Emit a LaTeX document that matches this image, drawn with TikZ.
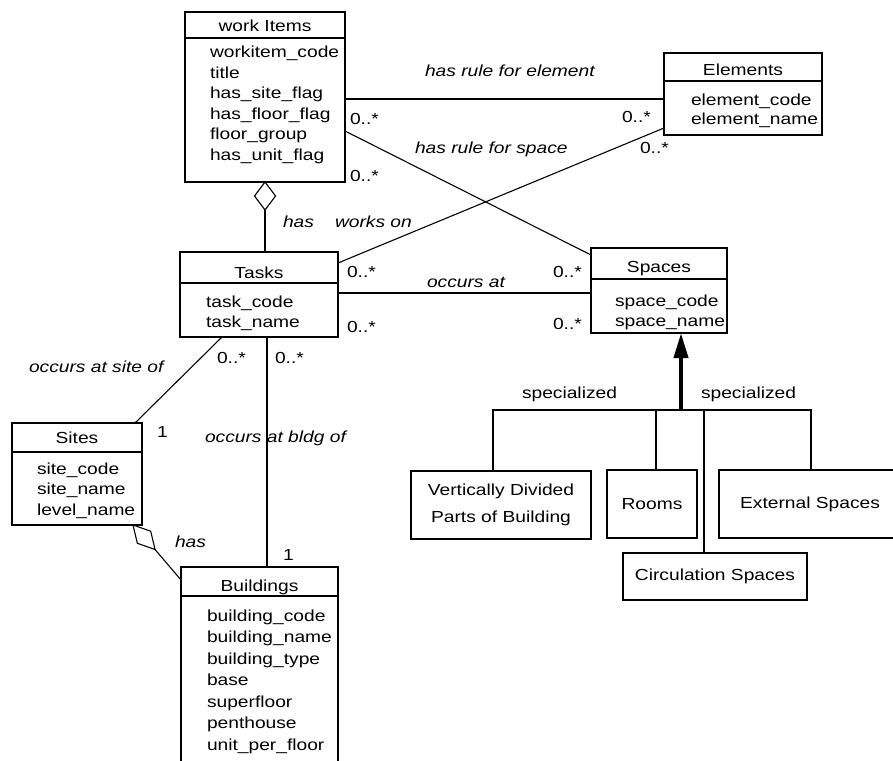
\documentclass[tikz,border=0pt]{standalone}
\usepackage{fontspec}
\setmainfont{Liberation Sans}[FakeStretch=1.2]
\usetikzlibrary{shapes.geometric,arrows.meta}

\begin{document}
\begin{tikzpicture}[x=1pt,y=-1pt,
  every node/.style={inner sep=0pt,outer sep=0pt},
  ln/.style={line width=1.1pt},
  cls/.style={draw,rectangle,line width=1.1pt},
  sub/.style={draw,rectangle,line width=1.1pt,align=center,
    font=\fontsize{16}{27}\selectfont},
  ttl/.style={anchor=base,font=\fontsize{16}{20}\selectfont},
  attr/.style={anchor=base west,font=\fontsize{16}{20}\selectfont},
  lbl/.style={anchor=base west,font=\fontsize{16}{20}\selectfont\itshape},
  mult/.style={anchor=base west,font=\fontsize{16}{20}\selectfont},
  agg/.style={draw,diamond,line width=1.1pt,fill=white},
]
\useasboundingbox (0,0) rectangle (893,760);
\clip (0,0) rectangle (893,760);

% ---------- classes ----------
% work Items
\node[cls,minimum width=160pt,minimum height=170pt] (wi) at (265,97) {};
\draw[ln] (wi.west |- 0,38) -- (wi.east |- 0,38);
\node[ttl] (wi-t) at (265,32) {work Items};
\foreach \t [count=\i from 0] in {workitem\_code,title,has\_site\_flag,
    has\_floor\_flag,floor\_group,has\_unit\_flag}
  \node[attr] (wi-a\i) at (210,{58+20.4*\i}) {\t};

% Elements
\node[cls,minimum width=158pt,minimum height=82pt] (el) at (743,94) {};
\draw[ln] (el.west |- 0,81) -- (el.east |- 0,81);
\node[ttl] (el-t) at (743,75) {Elements};
\foreach \t [count=\i from 0] in {element\_code,element\_name}
  \node[attr] (el-a\i) at (691,{105+19.5*\i}) {\t};

% Tasks
\node[cls,minimum width=158pt,minimum height=85pt] (ta) at (259,294.5) {};
\draw[ln] (ta.west |- 0,283) -- (ta.east |- 0,283);
\node[ttl] (ta-t) at (259,278) {Tasks};
\foreach \t [count=\i from 0] in {task\_code,task\_name}
  \node[attr] (ta-a\i) at (206,{307+20*\i}) {\t};

% Spaces
\node[cls,minimum width=136pt,minimum height=85pt] (sp) at (659,290.5) {};
\draw[ln] (sp.west |- 0,279) -- (sp.east |- 0,279);
\node[ttl] (sp-t) at (659,272) {Spaces};
\foreach \t [count=\i from 0] in {space\_code,space\_name}
  \node[attr] (sp-a\i) at (615,{306+20*\i}) {\t};

% Sites
\node[cls,minimum width=130pt,minimum height=102pt] (si) at (77,474) {};
\draw[ln] (si.west |- 0,452) -- (si.east |- 0,452);
\node[ttl] (si-t) at (77,443) {Sites};
\foreach \t [count=\i from 0] in {site\_code,site\_name,level\_name}
  \node[attr] (si-a\i) at (37,{474+20.5*\i}) {\t};

% Buildings (runs past the lower edge)
\node[cls,minimum width=157pt,minimum height=233pt] (bu) at (259.5,683.5) {};
\draw[ln] (bu.west |- 0,596) -- (bu.east |- 0,596);
\node[ttl] (bu-t) at (259.5,591) {Buildings};
\foreach \t [count=\i from 0] in {building\_code,building\_name,building\_type,
    base,superfloor,penthouse,unit\_per\_floor}
  \node[attr] (bu-a\i) at (207,{621+21.5*\i}) {\t};

% ---------- specializations of Spaces ----------
\node[sub,minimum width=180pt,minimum height=68pt] (vd) at (501,505)
  {Vertically Divided\\Parts of Building};
\node[sub,minimum width=90pt,minimum height=68pt] (ro) at (652,504) {Rooms};
\node[sub,minimum width=182pt,minimum height=68pt] (ex) at (810,504) {External Spaces};
\node[sub,minimum width=184pt,minimum height=47pt] (ci) at (715,576.5) {Circulation Spaces};

\coordinate (bar) at (681,410);
\draw[ln] (vd.north -| 493,0) -- (493,410) -- (811,410) -- (ex.north -| 811,0);
\draw[ln] (ro.north -| 656,0) -- (656,410);
\draw[ln] (ci.north -| 704,0) -- (704,410);
\draw[line width=4pt,-{Triangle[width=14pt,length=25pt]}] (bar) -- (sp.south -| bar);
\node[attr] (spc1) at (522,398) {specialized};
\node[attr] (spc2) at (701,398) {specialized};

% ---------- associations ----------
\draw[ln] (wi.east |- 0,99) -- (el.west |- 0,99);
\draw[ln] (wi.east |- 0,131) -- (sp.west |- 0,255);
\draw[ln] (ta.east |- 0,263) -- (el.west |- 0,128);
\draw[ln] (ta.east |- 0,293) -- (sp.west |- 0,293);
\draw[ln] (ta.south -| 222,0) -- (si.north -| 135,0);
\draw[ln] (ta.south -| 267,0) -- (bu.north -| 267,0);

% aggregations
\node[agg,minimum width=21pt,minimum height=28pt,anchor=north] (dwi) at (wi.south) {};
\draw[ln] (dwi.south) -- (ta.north -| dwi.south);
\node[agg,minimum width=33pt,minimum height=18pt,rotate=-48,anchor=west] (dsi)
  at (si.south -| 133,0) {};
\draw[ln] (dsi.east) -- (bu.west |- 0,580);

% association names
\node[lbl] (n1) at (425,76) {has rule for element};
\node[lbl] (n2) at (415,153) {has rule for space};
\node[lbl] (n3) at (283,227) {has};
\node[lbl] (n4) at (335,227) {works on};
\node[lbl] (n5) at (427,287) {occurs at};
\node[lbl] (n6) at (29,372) {occurs at site of};
\node[lbl] (n7) at (205,442) {occurs at bldg of};
\node[lbl] (n8) at (175,547) {has};

% multiplicities
\node[mult] (m1) at (350,124) {0..*};
\node[mult] (m2) at (350,181) {0..*};
\node[mult] (m3) at (622,122) {0..*};
\node[mult] (m4) at (640,153) {0..*};
\node[mult] (m5) at (347,277) {0..*};
\node[mult] (m6) at (347,332) {0..*};
\node[mult] (m7) at (553,277) {0..*};
\node[mult] (m8) at (553,329) {0..*};
\node[mult] (m9) at (217,363) {0..*};
\node[mult] (m10) at (275,363) {0..*};
\node[mult] (m11) at (157,437) {1};
\node[mult] (m12) at (283,560) {1};
\end{tikzpicture}
\end{document}
